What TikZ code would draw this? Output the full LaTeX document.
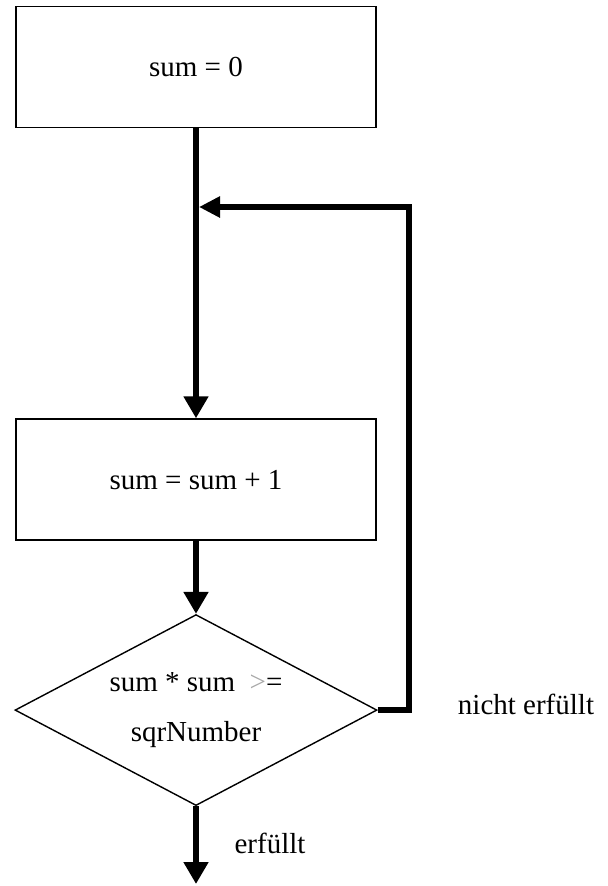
\documentclass[tikz,border=0pt]{standalone}
\usepackage{fontspec}
\setmainfont{Liberation Serif}
\usepackage{tikz}
\usetikzlibrary{arrows.meta,positioning,shapes.geometric}
\definecolor{opgray}{HTML}{A8A8A8}

\begin{document}
\begin{tikzpicture}[font=\fontsize{16.5}{28}\selectfont,
  box/.style={rectangle, draw, line width=0.9pt, minimum width=7.2cm, minimum height=2.42cm, inner sep=0pt},
  decision/.style={diamond, draw, line width=0.8pt, minimum width=7.24cm, minimum height=3.82cm, aspect=1.9, inner sep=0pt, align=center},
  arr/.style={-{Triangle[length=12.5pt,width=13.5pt]}, line width=3.6pt},
  back/.style={-{Triangle[length=12pt,width=11.5pt]}, line width=3.2pt}]
\useasboundingbox (0,0) rectangle (12.16,-17.72);
\node[box] (init) at (3.92,-1.34) {sum = 0};
\node[box, below=5.8cm of init] (incr) {sum = sum + 1};
\node[decision, below=1.46cm of incr] (check) {sum * sum \ \textcolor{opgray}{>}=\\ sqrNumber};
\node (no) at (10.52,-14.08) {nicht erfüllt};
\node (yes) at (5.4,-16.86) {erfüllt};
\coordinate (merge) at (3.98,-4.14);
\coordinate (ende) at (3.92,-17.68);
\draw[arr] (init) -- (incr);
\draw[arr] (incr) -- (check);
\draw[back] (check.east) -- ++(0.62,0) |- (merge);
\draw[arr] (check) -- (ende);
\end{tikzpicture}
\end{document}
